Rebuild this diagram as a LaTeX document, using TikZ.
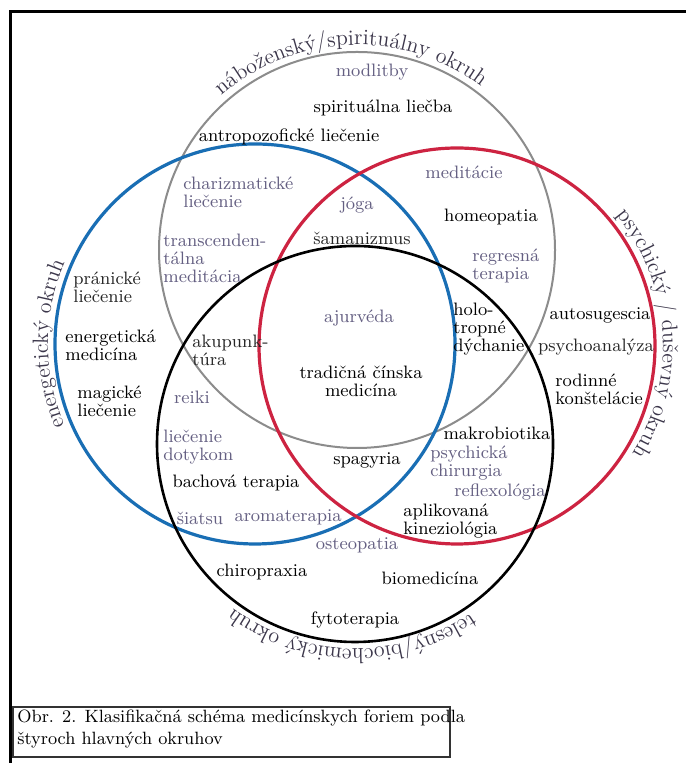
\documentclass[tikz,border=0pt]{standalone}
\usepackage{tikz}
\usetikzlibrary{decorations.text}

\definecolor{ringgray}{RGB}{140,140,140}
\definecolor{ringblue}{RGB}{25,110,180}
\definecolor{ringred}{RGB}{205,35,65}
\definecolor{paletext}{RGB}{100,95,130}
\definecolor{arctext}{RGB}{60,55,75}
\newcommand{\arcfont}{\fontsize{11}{11}\selectfont}

\begin{document}
\begin{tikzpicture}[x=0.5pt, y=0.5pt,
    lbl/.style={font=\fontsize{9}{9}\selectfont, inner sep=0pt, align=center},
    lleft/.style={lbl, align=left, anchor=west},
    pale/.style={text=paletext},
    ring/.style={line width=1.6pt},
    arclbl/.style={decorate, decoration={text along path, text align=center, text color=arctext}}]
    % Frame
    \fill[white] (0,0) rectangle (686,763);
    \useasboundingbox (0,0) rectangle (686,763);
    \draw[line width=1.5pt] (10,0) -- (10,751) -- (686,751);

    % Centres of the four circles
    \coordinate (spir) at (357,513);
    \coordinate (ener) at (255,419);
    \coordinate (psych) at (457,417);
    \coordinate (tel) at (355,319);

    \draw[ringgray, line width=1pt] (spir) circle[radius=198];
    \draw[ring, ringblue] (ener) circle[radius=200];
    \draw[ring, ringred] (psych) circle[radius=198];
    \draw[black, line width=1.3pt] (tel) circle[radius=198];

    % Circle names
    \path[arclbl, decoration={text={|\arcfont|náboženský/spirituálny okruh}}]
        (spir) ++(152:205) arc[start angle=152, end angle=32, radius=205];
    \path[arclbl, decoration={text={|\arcfont|psychický / duševný okruh}}]
        (psych) ++(62:206) arc[start angle=62, end angle=-54, radius=206];
    \path[arclbl, decoration={text={|\arcfont|energetický okruh}}]
        (ener) ++(225:207) arc[start angle=225, end angle=135, radius=207];
    \path[arclbl, decoration={text={|\arcfont|telesný/biochemický okruh}}]
        (tel) ++(-45:205) arc[start angle=-45, end angle=-137, radius=205];

    % Spiritual only
    \node[lbl, pale] (modlitby) at (372,691) {modlitby};
    \node[lbl] (spirliecba) at (383,655) {spirituálna liečba};
    \node[lbl] (antropo) at (289,626) {antropozofické liečenie};

    % Spiritual + energetic
    \node[lleft, pale] (charizma) at (183,571) {charizmatické\\liečenie};
    \node[lleft, pale] (transc) at (163,505) {transcenden-\\tálna\\meditácia};
    \node[lbl, pale] (joga) at (357,558) {jóga};
    \node[lbl, black!85] (saman) at (362,525) {šamanizmus};

    % All four
    \node[lbl, pale] (ajurveda) at (359,445) {ajurvéda};
    \node[lbl] (tcm) at (361,382) {tradičná čínska\\medicína};

    % Spiritual + psychic
    \node[lbl, pale] (medit) at (464,591) {meditácie};
    \node[lbl] (homeo) at (491,546) {homeopatia};
    \node[lleft, pale] (regres) at (472,497) {regresná\\terapia};
    \node[lleft] (holo) at (453,434) {holo-\\tropné\\dýchanie};

    % Psychic only
    \node[lbl] (autosug) at (600,448) {autosugescia};
    \node[lbl, black!85] (psychoan) at (596,416) {psychoanalýza};
    \node[lleft] (rodinne) at (555,374) {rodinné\\konštelácie};

    % Psychic + bodily
    \node[lbl] (makro) at (497,330) {makrobiotika};
    \node[lleft, pale] (chirurg) at (430,300) {psychická\\chirurgia};
    \node[lbl, pale] (reflex) at (500,271) {reflexológia};
    \node[lleft] (kinez) at (403,242) {aplikovaná\\kineziológia};

    % Energetic only
    \node[lleft, black!85] (pranic) at (73,476) {pránické\\liečenie};
    \node[lleft] (energmed) at (65,418) {energetická\\medicína};
    \node[lleft] (magic) at (77,362) {magické\\liečenie};

    % Energetic + bodily
    \node[lleft, black!85] (akup) at (192,413) {akupunk-\\túra};
    \node[lbl, pale] (reiki) at (192,366) {reiki};
    \node[lleft, pale] (dotyk) at (163,316) {liečenie\\dotykom};
    \node[lbl] (bach) at (236,280) {bachová terapia};
    \node[lbl, pale] (siatsu) at (200,245) {šiatsu};
    \node[lbl, pale] (aroma) at (288,246) {aromaterapia};
    \node[lbl] (spagyria) at (367,303) {spagyria};
    \node[lbl, pale] (osteo) at (357,218) {osteopatia};

    % Bodily only
    \node[lbl] (chiro) at (262,191) {chiropraxia};
    \node[lbl] (biomed) at (430,185) {biomedicína};
    \node[lbl] (fyto) at (355,143) {fytoterapia};

    % Caption
    \draw[line width=0.6pt, black!80] (13,6) rectangle (450,56);
    \node[anchor=north west, align=left, inner sep=0pt,
        font=\fontsize{8.9}{11}\selectfont] (caption) at (17,53)
        {Obr. 2. Klasifikačná schéma medicínskych foriem podla\\štyroch hlavných okruhov};
\end{tikzpicture}
\end{document}
